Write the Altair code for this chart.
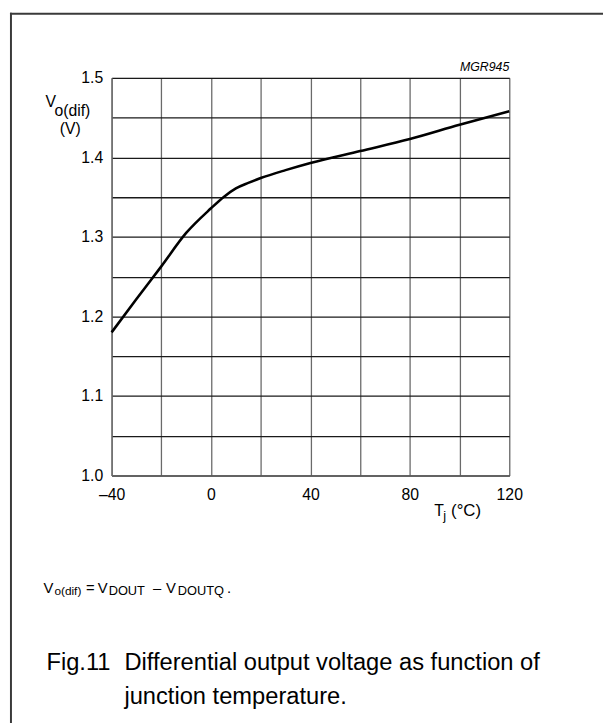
import altair as alt
import pandas as pd

# Curve: junction temperature (°C) vs differential output voltage (V)
temps = [-40, -30, -20, -10, 0, 5, 10, 15, 20, 30, 40, 60, 80, 100, 120]
volts = [1.180, 1.222, 1.263, 1.305, 1.336, 1.350, 1.361, 1.368, 1.374, 1.384, 1.393, 1.408, 1.423, 1.441, 1.458]

x_grid = [-40, -20, 0, 20, 40, 60, 80, 100, 120]
y_grid = [1.00, 1.05, 1.10, 1.15, 1.20, 1.25, 1.30, 1.35, 1.40, 1.45, 1.50]

FONT = "Liberation Sans"
W, H = 403, 403

df = pd.DataFrame({"T": temps, "V": volts})
one = pd.DataFrame({"k": [0]})

x_axis = alt.Axis(
    values=x_grid, grid=True, gridColor="#6a6a6a", gridWidth=1.3, gridOpacity=1,
    ticks=False, domainColor="#6a6a6a", domainWidth=1.3, title=None,
    labelExpr="datum.value == -40 ? '\u201340' : (datum.value % 40 == 0 ? datum.label : '')",
    labelFont=FONT, labelFontSize=16, labelColor="#000", labelPadding=11,
    labelFlush=False, labelOverlap=False,
)
y_axis = alt.Axis(
    values=y_grid, grid=True, gridColor="#1a1a1a", gridWidth=1.3, gridOpacity=1,
    ticks=False, domainColor="#6a6a6a", domainWidth=1.3, title=None,
    labelExpr="abs(datum.value*10 - round(datum.value*10)) < 0.001 ? format(datum.value, '.1f') : ''",
    labelFont=FONT, labelFontSize=16, labelColor="#000", labelPadding=9,
    labelFlush=False, labelOverlap=False,
)

line = alt.Chart(df).mark_line(color="black", strokeWidth=2.6, interpolate="monotone").encode(
    x=alt.X("T:Q", scale=alt.Scale(domain=[-40, 120], nice=False, zero=False), axis=x_axis),
    y=alt.Y("V:Q", scale=alt.Scale(domain=[1.0, 1.5], nice=False, zero=False), axis=y_axis),
)


def label(text, x, y, size, align="left", style="normal", baseline="alphabetic"):
    return alt.Chart(one).mark_text(
        text=text, font=FONT, fontSize=size, align=align, baseline=baseline,
        fontStyle=style, color="black",
    ).encode(x=alt.value(x), y=alt.value(y))


# plot origin is at page (113, 74)
texts = [
    # y-axis title
    label("V", -67, 30, 16),
    label("o(dif)", -58, 39, 16),
    label("(V)", -42, 57, 16, align="center"),
    # figure code
    label("MGR945", 403, -7, 12.5, align="right", style="italic"),
    # x-axis title
    label("T", 327, 444, 16),
    label("j", 336, 448, 13),
    label("(°C)", 344, 444, 17),
    # footnote
    label("V", -69, 522, 15),
    label("o(dif)", -58, 524, 12),
    label("=", -26, 522, 15),
    label("V", -14, 522, 15),
    label("DOUT", -3, 524, 13),
    label("\u2013", 42, 522, 15),
    label("V", 55, 522, 15),
    label("DOUTQ", 67, 524, 13),
    label(".", 117, 522, 15),
    # caption
    label("Fig.11", -66, 600, 24),
    label("Differential output voltage as function of", 13, 600, 24),
    label("junction temperature.", 13, 635, 24),
]

frame_left = alt.Chart(one).mark_rule(color="#3a3a3a", strokeWidth=2).encode(
    x=alt.value(-102), y=alt.value(-66), y2=alt.value(660)
)
frame_top = alt.Chart(one).mark_rule(color="#3a3a3a", strokeWidth=2).encode(
    x=alt.value(-103), x2=alt.value(500), y=alt.value(-65)
)

chart = alt.layer(frame_left, frame_top, line, *texts).properties(
    width=W, height=H,
    autosize=alt.AutoSizeParams(type="none"),
    padding={"left": 105, "top": 66, "right": 95, "bottom": 246},
).configure_view(stroke=None).configure(background="white")

chart.save("out.html", embed_options={"renderer": "svg", "actions": False})
